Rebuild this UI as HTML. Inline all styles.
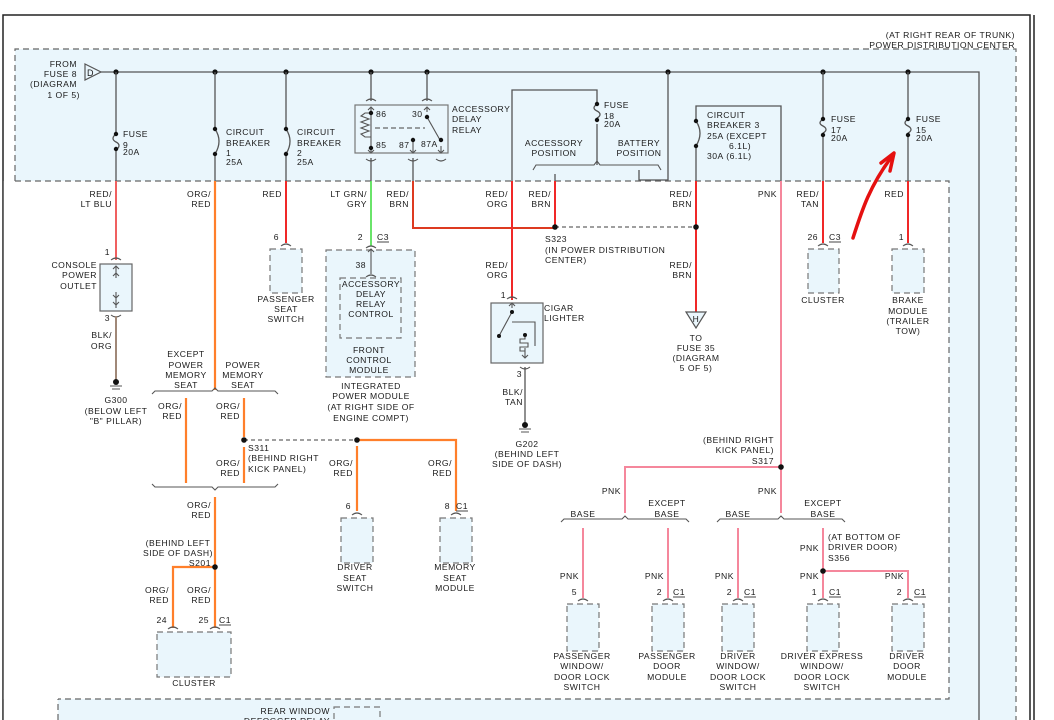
<!DOCTYPE html>
<html><head><meta charset="utf-8"><style>
body{margin:0;background:#fff}
svg{display:block}
text{font-family:"Liberation Sans",sans-serif;font-size:8.6px;fill:#1a1a1a;letter-spacing:.5px}
.m{text-anchor:middle}.e{text-anchor:end}
.g{stroke:#555;stroke-width:1.3;fill:none}
.d{stroke:#666;stroke-width:1.2;fill:none;stroke-dasharray:6 4}
.box{fill:#eaf6fc;stroke:#777;stroke-width:1.2;stroke-dasharray:6 4}
.red{stroke:#f02828;stroke-width:2;fill:none}
.org{stroke:#ff7f2a;stroke-width:2.2;fill:none}
.pnk{stroke:#f5879c;stroke-width:2;fill:none}
.grn{stroke:#44dd44;stroke-width:1.6;fill:none}
.br{stroke:#555;stroke-width:1.1;fill:none}
</style></head><body>
<svg width="1054" height="720" viewBox="0 0 1054 720" xmlns="http://www.w3.org/2000/svg">
<path d="M3 720V15H1030V720" stroke="#222" stroke-width="1.5" fill="none"/>
<line x1="1034" y1="15" x2="1034" y2="720" stroke="#222" stroke-width="1.5"/>
<rect x="15" y="49" width="1001" height="680" fill="#eaf6fc"/>
<path d="M15 181V49H1016V720" class="d"/>
<rect x="3.8" y="181" width="945" height="518" fill="#fff"/>
<rect x="3.8" y="690" width="54" height="30" fill="#fff"/>
<path d="M15 181H949V699H58" class="d"/>
<path d="M58 720V699" class="d"/>
<rect x="334" y="707" width="46" height="20" class="box"/>
<text x="330" y="714" class="e">REAR WINDOW</text>
<text x="330" y="724" class="e">DEFOGGER RELAY</text>
<text x="1015" y="38" class="e">(AT RIGHT REAR OF TRUNK)</text>
<text x="1015" y="48" class="e">POWER DISTRIBUTION CENTER</text>

<path d="M101 72H979V720" class="g"/>
<polygon points="85,64 101,72 85,80" fill="#eaf6fc" stroke="#555" stroke-width="1.2"/>
<text x="87" y="76" style="font-size:9px">D</text>
<text x="77" y="67" class="e">FROM</text><text x="77" y="77" class="e">FUSE 8</text><text x="77" y="87" class="e">(DIAGRAM</text><text x="80" y="98" class="e">1 OF 5)</text>
<g fill="#111">
<circle cx="116" cy="72" r="2.6"/><circle cx="215" cy="72" r="2.6"/><circle cx="286" cy="72" r="2.6"/><circle cx="371" cy="72" r="2.6"/><circle cx="427" cy="72" r="2.6"/><circle cx="668" cy="72" r="2.6"/><circle cx="823" cy="72" r="2.6"/><circle cx="908" cy="72" r="2.6"/>
</g>

<path d="M116 72V133M116 150V181" class="g"/>
<path d="M116 134c-4 3 -4 6 0 8c4 2 4 5 0 8" class="g"/>
<circle cx="116" cy="134" r="2.2" fill="#111"/><circle cx="116" cy="149" r="2.2" fill="#111"/>
<text x="123" y="137">FUSE</text><text x="123" y="148">9</text><text x="123" y="155">20A</text>
<path d="M116 181V260" class="red" style="stroke:#f06060"/>
<path d="M215 72V129M215 154V181" class="g"/>
<path d="M215 129q8 12 0 25" class="g"/>
<circle cx="215" cy="129" r="2.2" fill="#111"/><circle cx="215" cy="154" r="2.2" fill="#111"/>
<text x="226" y="135">CIRCUIT</text><text x="226" y="146">BREAKER</text><text x="226" y="156">1</text><text x="226" y="165">25A</text>
<path d="M286 72V129M286 154V181" class="g"/>
<path d="M286 129q8 12 0 25" class="g"/>
<circle cx="286" cy="129" r="2.2" fill="#111"/><circle cx="286" cy="154" r="2.2" fill="#111"/>
<text x="297" y="135">CIRCUIT</text><text x="297" y="146">BREAKER</text><text x="297" y="156">2</text><text x="297" y="165">25A</text>
<path d="M286 181V243" class="red"/>

<path d="M371 72V101M427 72V101M371 158V181M413 158V181" class="g"/>
<rect x="355" y="105" width="93" height="48" fill="#eaf6fc" stroke="#777" stroke-width="1.2"/>
<path d="M366 101q5-4 10 0M422 101q5-4 10 0M366 159q5 4 10 0M408 159q5 4 10 0M436 159q5 4 10 0" class="br"/>
<path d="M371 112V108M368 110l3-3 3 3M427 112V108M424 110l3-3 3 3M371 148V152M368 150l3 3 3-3M413 140V152M410 150l3 3 3-3M441 146V152M438 150l3 3 3-3" class="br"/>
<path d="M371 113h-6l-4 3 8 3-8 3 8 3-8 3 8 3-8 3 4 3h6" class="br"/>
<path d="M371 113V148" class="br"/>
<path d="M375 128H425" class="d" style="stroke-dasharray:5 3"/>
<path d="M427 117L440 140" class="br"/>
<g fill="#111"><circle cx="371" cy="113" r="2.2"/><circle cx="371" cy="148" r="2.2"/><circle cx="427" cy="117" r="2.2"/><circle cx="441" cy="140" r="2.2"/><circle cx="413" cy="140" r="2.2"/></g>
<text x="376" y="117">86</text><text x="412" y="117">30</text><text x="376" y="148">85</text><text x="399" y="148">87</text><text x="421" y="147">87A</text>
<text x="452" y="112">ACCESSORY</text><text x="452" y="122">DELAY</text><text x="452" y="133">RELAY</text>
<path d="M371 181V246" class="grn"/>
<path d="M413 181V228H555" class="red" style="stroke:#dd3a20"/>

<path d="M512 181V90H597V104M597 124V165M668 72V180H639V170" class="g"/>
<path d="M597 104c-4 3 -4 5 0 7c4 2 4 5 0 7" class="g"/>
<circle cx="597" cy="104" r="2.2" fill="#111"/><circle cx="597" cy="120" r="2.2" fill="#111"/>
<text x="604" y="108">FUSE</text><text x="604" y="119">18</text><text x="604" y="127">20A</text>
<path d="M533 170l3-5H594l3-4 3 4H658l3 5" class="br"/>
<text x="554" y="146" class="m">ACCESSORY</text><text x="554" y="156" class="m">POSITION</text>
<text x="639" y="146" class="m">BATTERY</text><text x="639" y="156" class="m">POSITION</text>
<path d="M555 174V181" class="g"/>
<path d="M555 181V227" class="red"/>
<path d="M512 181V300" class="red"/>
<path d="M696 181V146M696 121V106H781V181" class="g"/>
<path d="M696 121q8 12 0 25" class="g"/>
<circle cx="696" cy="121" r="2.2" fill="#111"/><circle cx="696" cy="146" r="2.2" fill="#111"/>
<text x="707" y="118">CIRCUIT</text><text x="707" y="128">BREAKER 3</text><text x="707" y="139">25A  (EXCEPT</text><text x="729" y="149">6.1L)</text><text x="707" y="159">30A  (6.1L)</text>
<path d="M696 181V312" class="red"/>
<path d="M781 181V467" class="pnk"/>
<path d="M823 72V118M823 136V181M908 72V118M908 136V181" class="g"/>
<path d="M823 119c-4 3-4 5 0 7c4 2 4 5 0 7M908 119c-4 3-4 5 0 7c4 2 4 5 0 7" class="g"/>
<g fill="#111"><circle cx="823" cy="119" r="2.2"/><circle cx="823" cy="135" r="2.2"/><circle cx="908" cy="119" r="2.2"/><circle cx="908" cy="135" r="2.2"/></g>
<text x="831" y="122">FUSE</text><text x="831" y="133">17</text><text x="831" y="141">20A</text>
<text x="916" y="122">FUSE</text><text x="916" y="133">15</text><text x="916" y="141">20A</text>
<path d="M823 181V243" class="red"/>
<path d="M908 181V243" class="red"/>

<text x="112" y="197" class="e">RED/</text><text x="112" y="207" class="e">LT BLU</text>
<text x="211" y="197" class="e">ORG/</text><text x="211" y="207" class="e">RED</text>
<text x="282" y="197" class="e">RED</text>
<text x="367" y="197" class="e">LT GRN/</text><text x="367" y="207" class="e">GRY</text>
<text x="409" y="197" class="e">RED/</text><text x="409" y="207" class="e">BRN</text>
<text x="508" y="197" class="e">RED/</text><text x="508" y="207" class="e">ORG</text>
<text x="551" y="197" class="e">RED/</text><text x="551" y="207" class="e">BRN</text>
<text x="692" y="197" class="e">RED/</text><text x="692" y="207" class="e">BRN</text>
<text x="777" y="197" class="e">PNK</text>
<text x="819" y="197" class="e">RED/</text><text x="819" y="207" class="e">TAN</text>
<text x="904" y="197" class="e">RED</text>

<path d="M555 227H696" class="d" style="stroke-dasharray:4 3"/>
<circle cx="555" cy="227" r="2.8" fill="#111"/><circle cx="696" cy="227" r="2.8" fill="#111"/>
<text x="545" y="242">S323</text><text x="545" y="253">(IN POWER DISTRIBUTION</text><text x="545" y="263">CENTER)</text>
<text x="692" y="268" class="e">RED/</text><text x="692" y="278" class="e">BRN</text>
<polygon points="686,312 706,312 696,328" fill="#eaf6fc" stroke="#555" stroke-width="1.2"/>
<text x="696" y="322" class="m" style="font-size:8.5px">H</text>
<text x="696" y="341" class="m">TO</text><text x="696" y="351" class="m">FUSE 35</text><text x="696" y="361" class="m">(DIAGRAM</text><text x="696" y="371" class="m">5 OF 5)</text>

<rect x="100" y="264" width="32" height="47" fill="#eaf6fc" stroke="#666" stroke-width="1.2"/>
<path d="M111 260q5-4 10 0M111 315q5 4 10 0M116 266V278M113 269l3-3 3 3M113 276l3-3 3 3M116 292V308M113 295l3 3 3-3M113 302l3 3 3-3" class="br"/>
<path d="M116 316V380" style="stroke:#a08878;stroke-width:2;fill:none"/>
<text x="110" y="255" class="e">1</text><text x="110" y="321" class="e">3</text>
<text x="97" y="268" class="e">CONSOLE</text><text x="97" y="278" class="e">POWER</text><text x="97" y="289" class="e">OUTLET</text>
<text x="112" y="338" class="e">BLK/</text><text x="112" y="349" class="e">ORG</text>
<circle cx="116" cy="382" r="3" fill="#111"/><path d="M110 386h12M112 389h8" class="br"/>
<text x="116" y="403" class="m">G300</text><text x="116" y="414" class="m">(BELOW LEFT</text><text x="116" y="424" class="m">"B" PILLAR)</text>

<path d="M281 246q5-4 10 0" class="br"/>
<rect x="270" y="249" width="32" height="44" class="box"/>
<text x="279" y="240" class="e">6</text>
<text x="286" y="302" class="m">PASSENGER</text><text x="286" y="312" class="m">SEAT</text><text x="286" y="322" class="m">SWITCH</text>

<rect x="326" y="250" width="89" height="127" class="box"/>
<rect x="340" y="278" width="61" height="60" class="box"/>
<path d="M366 248q5-4 10 0M366 277q5-4 10 0M371 249V274" class="br"/>
<path d="M368 252l3-3 3 3" class="br"/>
<text x="363" y="240" class="e">2</text><text x="377" y="240">C3</text><path d="M377 242h12" class="br"/>
<text x="366" y="268" class="e">38</text>
<text x="371" y="287" class="m">ACCESSORY</text><text x="371" y="297" class="m">DELAY</text><text x="371" y="307" class="m">RELAY</text><text x="371" y="317" class="m">CONTROL</text>
<text x="369" y="353" class="m">FRONT</text><text x="369" y="363" class="m">CONTROL</text><text x="369" y="373" class="m">MODULE</text>
<text x="371" y="389" class="m">INTEGRATED</text><text x="371" y="399" class="m">POWER MODULE</text><text x="371" y="410" class="m">(AT RIGHT SIDE OF</text><text x="371" y="421" class="m">ENGINE COMPT)</text>

<rect x="491" y="303" width="52" height="60" fill="#eaf6fc" stroke="#666" stroke-width="1.2"/>
<path d="M507 299q5-4 10 0M520 367q5 4 10 0M512 303V308M509 306l3-3 3 3M512 312L499 336M512 322H535V346M525 348V358M522 355l3 3 3-3" class="br"/>
<path d="M525 335v4h-5v4h8v4h-8v4h5" class="br"/>
<circle cx="512" cy="312" r="2" fill="#111"/><circle cx="499" cy="336" r="2" fill="#111"/><circle cx="525" cy="335" r="2" fill="#111"/>
<path d="M525 367V425" class="g"/>
<text x="508" y="268" class="e">RED/</text><text x="508" y="278" class="e">ORG</text>
<text x="506" y="298" class="e">1</text><text x="522" y="377" class="e">3</text>
<text x="544" y="311">CIGAR</text><text x="544" y="321">LIGHTER</text>
<text x="523" y="395" class="e">BLK/</text><text x="523" y="405" class="e">TAN</text>
<circle cx="525" cy="425" r="3" fill="#111"/><path d="M519 429h12M521 432h8" class="br"/>
<text x="527" y="447" class="m">G202</text><text x="527" y="457" class="m">(BEHIND LEFT</text><text x="527" y="467" class="m">SIDE OF DASH)</text>

<path d="M818 246q5-4 10 0M903 246q5-4 10 0" class="br"/>
<rect x="808" y="249" width="31" height="44" class="box"/>
<rect x="892" y="249" width="32" height="44" class="box"/>
<text x="818" y="240" class="e">26</text><text x="829" y="240">C3</text><path d="M829 242h12" class="br"/>
<text x="904" y="240" class="e">1</text>
<text x="823" y="303" class="m">CLUSTER</text>
<text x="908" y="303" class="m">BRAKE</text><text x="908" y="314" class="m">MODULE</text><text x="908" y="324" class="m">(TRAILER</text><text x="908" y="334" class="m">TOW)</text>
<path d="M853 238C862 210 870 185 893 155" stroke="#e51010" stroke-width="3.5" fill="none" stroke-linecap="round"/>
<path d="M881 163L894 153L890 171" stroke="#e51010" stroke-width="3.5" fill="none" stroke-linecap="round" stroke-linejoin="round"/>

<path d="M215 181V390" class="org"/>
<text x="186" y="357" class="m">EXCEPT</text><text x="186" y="368" class="m">POWER</text><text x="186" y="378" class="m">MEMORY</text><text x="186" y="388" class="m">SEAT</text>
<text x="243" y="368" class="m">POWER</text><text x="243" y="378" class="m">MEMORY</text><text x="243" y="388" class="m">SEAT</text>
<path d="M152 394l3-3H212l3-3 3 3H275l3 3" class="br"/>
<path d="M186 398V483M244 398V437M244 447V483" class="org"/>
<path d="M152 484l3 3H212l3 3 3-3H275l3-3" class="br"/>
<text x="182" y="409" class="e">ORG/</text><text x="182" y="419" class="e">RED</text>
<text x="240" y="409" class="e">ORG/</text><text x="240" y="419" class="e">RED</text>
<text x="240" y="466" class="e">ORG/</text><text x="240" y="476" class="e">RED</text>
<path d="M244 440H357" class="d" style="stroke-dasharray:4 3"/>
<path d="M357 440H456V511M357 446V511" class="org"/>
<circle cx="244" cy="440" r="2.8" fill="#111"/><circle cx="357" cy="440" r="2.8" fill="#111"/>
<text x="248" y="451">S311</text><text x="248" y="461">(BEHIND RIGHT</text><text x="248" y="472">KICK PANEL)</text>
<text x="353" y="466" class="e">ORG/</text><text x="353" y="476" class="e">RED</text>
<text x="452" y="466" class="e">ORG/</text><text x="452" y="476" class="e">RED</text>
<path d="M352 515q5-4 10 0M451 515q5-4 10 0" class="br"/>
<rect x="341" y="518" width="32" height="45" class="box"/>
<rect x="440" y="518" width="32" height="45" class="box"/>
<text x="351" y="509" class="e">6</text><text x="450" y="509" class="e">8</text><text x="456" y="509">C1</text><path d="M456 511h12" class="br"/>
<text x="355" y="570" class="m">DRIVER</text><text x="355" y="581" class="m">SEAT</text><text x="355" y="591" class="m">SWITCH</text>
<text x="455" y="570" class="m">MEMORY</text><text x="455" y="581" class="m">SEAT</text><text x="455" y="591" class="m">MODULE</text>
<path d="M215 497V628M215 567H173V628" class="org"/>
<circle cx="215" cy="567" r="2.8" fill="#111"/>
<text x="211" y="508" class="e">ORG/</text><text x="211" y="518" class="e">RED</text>
<text x="178" y="546" class="m">(BEHIND LEFT</text><text x="178" y="556" class="m">SIDE OF DASH)</text><text x="211" y="566" class="e">S201</text>
<text x="169" y="593" class="e">ORG/</text><text x="169" y="603" class="e">RED</text>
<text x="211" y="593" class="e">ORG/</text><text x="211" y="603" class="e">RED</text>
<path d="M168 629q5-4 10 0M210 629q5-4 10 0" class="br"/>
<rect x="157" y="632" width="74" height="45" class="box"/>
<text x="167" y="623" class="e">24</text><text x="209" y="623" class="e">25</text><text x="219" y="623">C1</text><path d="M219 625h12" class="br"/>
<text x="194" y="686" class="m">CLUSTER</text>

<path d="M781 467H625V513M781 467V513" class="pnk"/>
<circle cx="781" cy="467" r="2.8" fill="#111"/>
<text x="774" y="443" class="e">(BEHIND RIGHT</text><text x="774" y="453" class="e">KICK PANEL)</text><text x="774" y="464" class="e">S317</text>
<text x="621" y="494" class="e">PNK</text><text x="777" y="494" class="e">PNK</text>
<path d="M561 522l3-3H622l3-3 3 3H686l3 3M717 522l3-3H778l3-3 3 3H842l3 3" class="br"/>
<text x="583" y="517" class="m">BASE</text><text x="667" y="506" class="m">EXCEPT</text><text x="667" y="517" class="m">BASE</text>
<text x="738" y="517" class="m">BASE</text><text x="823" y="506" class="m">EXCEPT</text><text x="823" y="517" class="m">BASE</text>
<path d="M583 528V598M668 528V598M738 528V598M823 528V598M823 571H908V598" class="pnk"/>
<circle cx="823" cy="571" r="2.8" fill="#111"/>
<text x="828" y="540">(AT BOTTOM OF</text><text x="828" y="550">DRIVER DOOR)</text><text x="828" y="561">S356</text>
<text x="819" y="551" class="e">PNK</text>
<text x="579" y="579" class="e">PNK</text><text x="664" y="579" class="e">PNK</text><text x="734" y="579" class="e">PNK</text><text x="819" y="579" class="e">PNK</text><text x="904" y="579" class="e">PNK</text>
<path d="M578 601q5-4 10 0M663 601q5-4 10 0M733 601q5-4 10 0M818 601q5-4 10 0M903 601q5-4 10 0" class="br"/>
<rect x="567" y="604" width="32" height="47" class="box"/>
<rect x="652" y="604" width="32" height="47" class="box"/>
<rect x="722" y="604" width="32" height="47" class="box"/>
<rect x="807" y="604" width="32" height="47" class="box"/>
<rect x="892" y="604" width="32" height="47" class="box"/>
<text x="577" y="595" class="e">5</text>
<text x="662" y="595" class="e">2</text><text x="673" y="595">C1</text><path d="M673 597h12" class="br"/>
<text x="732" y="595" class="e">2</text><text x="744" y="595">C1</text><path d="M744 597h12" class="br"/>
<text x="817" y="595" class="e">1</text><text x="829" y="595">C1</text><path d="M829 597h12" class="br"/>
<text x="902" y="595" class="e">2</text><text x="914" y="595">C1</text><path d="M914 597h12" class="br"/>
<text x="582" y="659" class="m">PASSENGER</text><text x="582" y="669" class="m">WINDOW/</text><text x="582" y="680" class="m">DOOR LOCK</text><text x="582" y="690" class="m">SWITCH</text>
<text x="667" y="659" class="m">PASSENGER</text><text x="667" y="669" class="m">DOOR</text><text x="667" y="680" class="m">MODULE</text>
<text x="738" y="659" class="m">DRIVER</text><text x="738" y="669" class="m">WINDOW/</text><text x="738" y="680" class="m">DOOR LOCK</text><text x="738" y="690" class="m">SWITCH</text>
<text x="822" y="659" class="m">DRIVER EXPRESS</text><text x="822" y="669" class="m">WINDOW/</text><text x="822" y="680" class="m">DOOR LOCK</text><text x="822" y="690" class="m">SWITCH</text>
<text x="907" y="659" class="m">DRIVER</text><text x="907" y="669" class="m">DOOR</text><text x="907" y="680" class="m">MODULE</text>
</svg>
</body></html>
